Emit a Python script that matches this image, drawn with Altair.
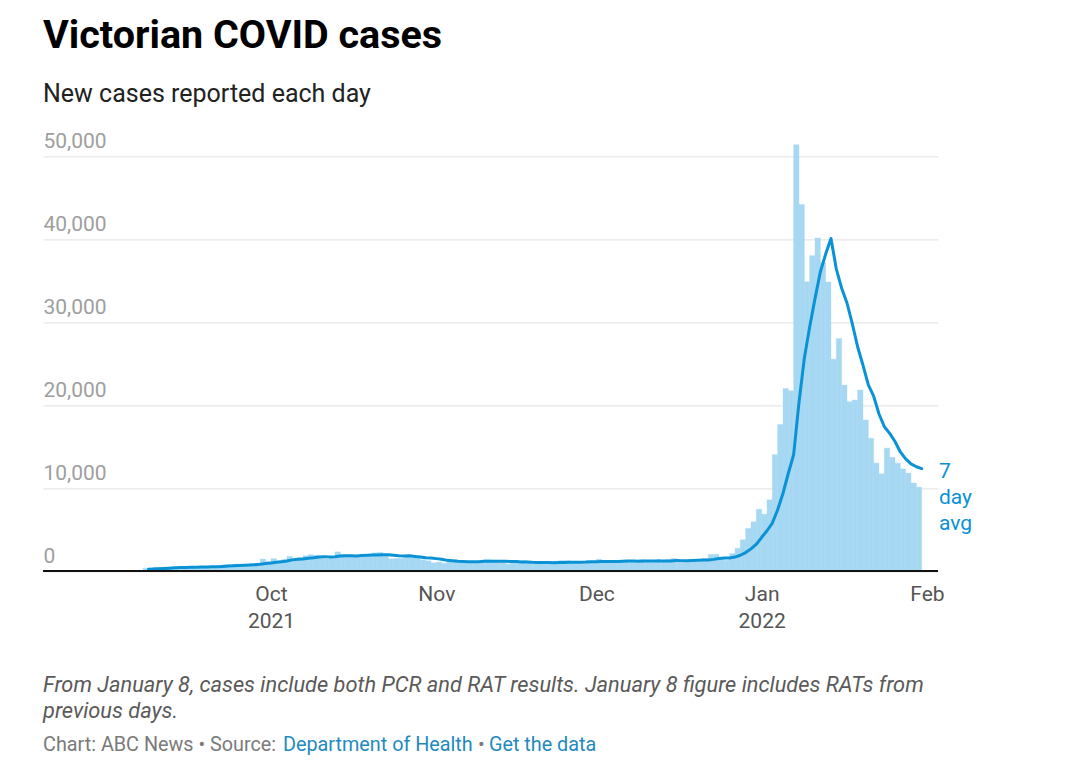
import altair as alt
import pandas as pd

# Daily new cases, Sep 8 2021 - Jan 31 2022
sep_cases = [324, 334, 450, 392, 473, 473, 445, 423, 514, 510, 535, 507, 567, 603,
             628, 766, 733, 847, 705, 779, 867, 950, 1438]
oct_cases = [1143, 1488, 1220, 1377, 1763, 1420, 1638, 1838, 1965, 1890, 1612, 1466,
             1571, 2297, 1993, 1964, 1838, 1903, 1749, 1841, 2189, 2232, 1935, 1461,
             1510, 1534, 1923, 1656, 1750, 1355, 1221]
nov_cases = [989, 1069, 941, 1247, 1343, 1115, 1035, 1126, 1003, 1273, 1369, 1313,
             1052, 1069, 860, 996, 1007, 1273, 1034, 1029, 1029, 827, 851, 1179,
             1254, 1252, 1061, 1007, 918, 1184]
dec_cases = [1179, 1419, 1188, 1193, 980, 1073, 1312, 1232, 1206, 1365, 1290, 1036,
             1099, 1109, 1405, 1510, 1302, 1240, 1215, 1302, 1245, 1503, 1999, 2005,
             1608, 1302, 2100, 2738, 3767, 5137, 5919]
jan_cases = [7442, 6843, 8577, 14020, 17636, 21997, 21728, 51356, 44155, 34836,
             37994, 40127, 37169, 34808, 25526, 28000, 22400, 20400, 20600, 21800,
             18200, 16000, 13000, 11700, 14800, 13700, 13000, 12300, 11800, 10600,
             10100]

# 7 day average line
sep_avg = [225, 247, 282, 311, 343, 385, 413, 427, 453, 461, 482, 487, 500, 523,
           552, 588, 620, 664, 693, 723, 761, 807, 903]
oct_avg = [961, 1053, 1126, 1212, 1340, 1407, 1436, 1535, 1603, 1699, 1732, 1690,
           1711, 1806, 1828, 1828, 1820, 1862, 1902, 1941, 1925, 1959, 1955, 1901,
           1845, 1815, 1826, 1750, 1681, 1598, 1564]
nov_avg = [1490, 1423, 1283, 1225, 1166, 1132, 1106, 1125, 1116, 1163, 1181, 1176,
           1167, 1172, 1134, 1133, 1095, 1081, 1042, 1038, 1033, 1028, 1007, 1032,
           1029, 1060, 1065, 1062, 1075, 1122]
dec_avg = [1122, 1146, 1137, 1155, 1152, 1174, 1192, 1200, 1169, 1194, 1208, 1216,
           1220, 1191, 1216, 1259, 1250, 1243, 1269, 1298, 1317, 1331, 1401, 1501,
           1554, 1566, 1680, 1894, 2217, 2665, 3224]
jan_avg = [4058, 4849, 5775, 7386, 9368, 11776, 14035, 20308, 25638, 29390, 32815,
           36028, 38195, 40064, 36374, 34066, 32289, 29776, 26986, 24791, 22418,
           21057, 18914, 17386, 16586, 15600, 14343, 13500, 12900, 12557, 12329]

y_ticks = [0, 10000, 20000, 30000, 40000, 50000]

cases = sep_cases + oct_cases + nov_cases + dec_cases + jan_cases
avg = sep_avg + oct_avg + nov_avg + dec_avg + jan_avg
dates = pd.date_range("2021-09-08", "2022-01-31", freq="D")

df = pd.DataFrame({
    "date": dates,
    "start": dates - pd.Timedelta(days=1),
    "cases": cases,
    "avg": avg,
})
one = pd.DataFrame({"k": [0]})

BAR = "#a7d8f3"
LINE = "#0a92d5"
FONT = "Roboto"

W = 895
H = 431.6

x_scale = alt.Scale(domain=[alt.DateTime(year=2021, month=8, date=19, hours=6),
                            alt.DateTime(year=2022, month=2, date=3, hours=1, minutes=30)],
                    padding=0, nice=False)
y_scale = alt.Scale(domain=[0, 52000], nice=False, padding=0)

x_axis = alt.Axis(
    values=[alt.DateTime(year=2021, month=10, date=1),
            alt.DateTime(year=2021, month=11, date=1),
            alt.DateTime(year=2021, month=12, date=1),
            alt.DateTime(year=2022, month=1, date=1),
            alt.DateTime(year=2022, month=2, date=1)],
    labelExpr="[timeFormat(datum.value, '%b'), (month(datum.value) == 9 || month(datum.value) == 0) ? timeFormat(datum.value, '%Y') : '']",
    ticks=False, domain=False, grid=False, title=None,
    labelFont=FONT, labelFontSize=21, labelColor="#555555",
    labelPadding=12, labelLineHeight=27, labelFlush=False, labelOverlap=False,
)
y_axis = alt.Axis(
    values=y_ticks, format=",d", title=None,
    ticks=False, tickSize=0, domain=False, grid=True, gridColor="#e0e0e0", gridWidth=1,
    labelAlign="left", labelBaseline="alphabetic", labelPadding=0, labelOffset=-9,
    labelFont=FONT, labelFontSize=21, labelColor="#9e9e9e",
)

base = alt.Chart(df)

bars = base.mark_bar(color=BAR, stroke=BAR, strokeWidth=0.4, orient="vertical").encode(
    x=alt.X("start:T", scale=x_scale, axis=x_axis),
    x2="date:T",
    y=alt.Y("cases:Q", scale=y_scale, axis=y_axis),
    y2=alt.datum(0),
)

baseline = alt.Chart(one).mark_rule(color="#111111", strokeWidth=2).encode(
    y=alt.datum(0, scale=y_scale)
)

line = base.mark_line(color=LINE, strokeWidth=3, strokeCap="round", strokeJoin="round").encode(
    x=alt.X("date:T", scale=x_scale),
    y=alt.Y("avg:Q", scale=y_scale),
)

avg_label = alt.Chart(one).mark_text(
    align="left", baseline="middle", lineBreak="\n", lineHeight=26,
    font=FONT, fontSize=21, color=LINE,
).encode(x=alt.value(W + 1), y=alt.value(332.6), text=alt.value("7\nday\navg"))

note_style = dict(align="left", baseline="middle", font=FONT, fontSize=21.8,
                  fontStyle="italic", color="#5a5a5a")
note1 = alt.Chart(one).mark_text(**note_style).encode(
    x=alt.value(0), y=alt.value(545.6),
    text=alt.value("From January 8, cases include both PCR and RAT results. January 8 figure includes RATs from"))
note2 = alt.Chart(one).mark_text(**note_style).encode(
    x=alt.value(0), y=alt.value(571.6), text=alt.value("previous days."))

src_style = dict(align="left", baseline="middle", font=FONT, fontSize=19.8)
src1 = alt.Chart(one).mark_text(color="#7a7a7a", **src_style).encode(
    x=alt.value(0), y=alt.value(605.6), text=alt.value("Chart: ABC News \u2022 Source:"))
src2 = alt.Chart(one).mark_text(color="#1f8ac0", **src_style).encode(
    x=alt.value(240), y=alt.value(605.6), text=alt.value("Department of Health"))
src3 = alt.Chart(one).mark_text(color="#7a7a7a", **src_style).encode(
    x=alt.value(435), y=alt.value(605.6), text=alt.value("\u2022"))
src4 = alt.Chart(one).mark_text(color="#1f8ac0", **src_style).encode(
    x=alt.value(446), y=alt.value(605.6), text=alt.value("Get the data"))

chart = alt.layer(
    bars, line, baseline, avg_label, note1, note2, src1, src2, src3, src4
).properties(
    width=W, height=H,
    padding={"left": 35, "top": 131.4, "right": 100, "bottom": 185},
    autosize="none",
    title=alt.TitleParams(
        "Victorian COVID cases",
        subtitle="New cases reported each day",
        anchor="start", frame="group", offset=22,
        font=FONT, fontSize=39.5, fontWeight="bold", color="#000000",
        subtitleFont=FONT, subtitleFontSize=25, subtitleColor="#222222",
        subtitlePadding=25,
    ),
).configure(background="white").configure_view(stroke=None)

chart.save("out.html", embed_options={"renderer": "svg", "actions": False})
